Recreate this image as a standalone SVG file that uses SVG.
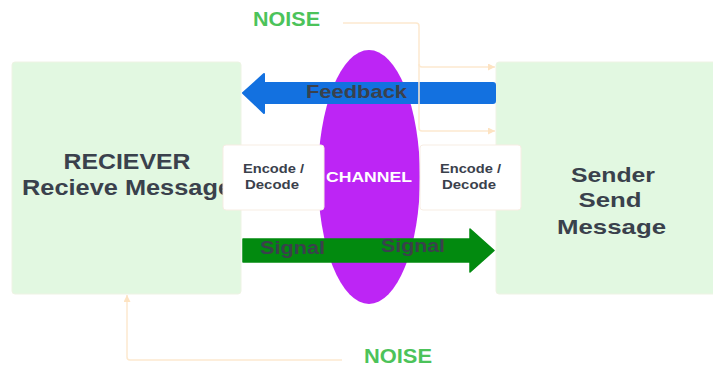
<svg xmlns="http://www.w3.org/2000/svg" width="713" height="367" viewBox="0 0 713 367">
  <defs>
    <style>
      .node { fill: #e2f8e1; stroke: #eef3e4; stroke-width: 1; }
      .coder { fill: #ffffff; stroke: #f7ede3; stroke-width: 1; }
      .label { font-family: "Liberation Sans", Arial, sans-serif; font-weight: bold; fill: #3a414c; text-anchor: middle; }
      .noise { font-family: "Liberation Sans", Arial, sans-serif; font-weight: bold; fill: #4cc35a; }
      .wire { fill: none; stroke: #fde9cf; stroke-width: 1.5; stroke-linejoin: round; }
    </style>
    <marker id="tip" viewBox="0 0 10 10" refX="10" refY="5" markerWidth="7" markerHeight="7" orient="auto" markerUnits="userSpaceOnUse">
      <path d="M0,0 L10,5 L0,10 Z" fill="#fde3c2"/>
    </marker>
  </defs>

  <rect width="713" height="367" fill="#ffffff"/>

  <!-- receiving end -->
  <g id="receiver">
    <rect class="node" x="12" y="62" width="229" height="232" rx="3"/>
    <text class="label" x="127" y="169" font-size="21.5" textLength="127" lengthAdjust="spacingAndGlyphs">RECIEVER</text>
    <text class="label" x="127" y="195" font-size="21.5" textLength="210" lengthAdjust="spacingAndGlyphs">Recieve Message</text>
  </g>

  <!-- sending end -->
  <g id="sender">
    <rect class="node" x="496" y="62" width="225" height="232" rx="3"/>
    <text class="label" x="613" y="182" font-size="20.5" textLength="84" lengthAdjust="spacingAndGlyphs">Sender</text>
    <text class="label" x="610" y="207" font-size="20.5" textLength="63" lengthAdjust="spacingAndGlyphs">Send</text>
    <text class="label" x="611.5" y="234" font-size="20.5" textLength="109" lengthAdjust="spacingAndGlyphs">Message</text>
  </g>

  <!-- transmission medium -->
  <g id="channel">
    <ellipse cx="369" cy="177" rx="51" ry="127" fill="#bd25f5"/>
  </g>

  <!-- feedback path -->
  <g id="feedback">
    <path d="M243,93 L264,74 L264,83 L493,83 Q495,83 495,85 L495,101 Q495,103 493,103 L264,103 L264,113 Z" fill="#1371e0" stroke="#1371e0" stroke-width="2" stroke-linejoin="round"/>
    <text class="label" x="356.5" y="98" font-size="19" textLength="101" lengthAdjust="spacingAndGlyphs">Feedback</text>
  </g>

  <!-- signal path -->
  <g id="signal">
    <path d="M243,239 L470,239 L470,229 L494,250.5 L470,272 L470,262 L243,262 Z" fill="#028a0f" stroke="#028a0f" stroke-width="1.5" stroke-linejoin="round"/>
    <text class="label" x="292.5" y="254" font-size="18" textLength="65" lengthAdjust="spacingAndGlyphs">Signal</text>
    <text class="label" x="413" y="252" font-size="18" textLength="64" lengthAdjust="spacingAndGlyphs">Signal</text>
  </g>

  <!-- coding stages -->
  <g id="coder-left">
    <rect class="coder" x="223" y="145" width="101" height="65" rx="3"/>
    <text class="label" x="273.5" y="173" font-size="13" textLength="61" lengthAdjust="spacingAndGlyphs">Encode /</text>
    <text class="label" x="272" y="188.5" font-size="13" textLength="54" lengthAdjust="spacingAndGlyphs">Decode</text>
  </g>
  <g id="coder-right">
    <rect class="coder" x="420" y="145" width="101" height="65" rx="3"/>
    <text class="label" x="470.5" y="173" font-size="13" textLength="61" lengthAdjust="spacingAndGlyphs">Encode /</text>
    <text class="label" x="469" y="188.5" font-size="13" textLength="54" lengthAdjust="spacingAndGlyphs">Decode</text>
  </g>

  <g id="channel-label">
    <text x="369" y="182" font-family="Liberation Sans, Arial, sans-serif" font-weight="bold" font-size="15" fill="#ffffff" text-anchor="middle" textLength="86" lengthAdjust="spacingAndGlyphs">CHANNEL</text>
  </g>

  <!-- interference sources -->
  <g id="noise-top">
    <text class="noise" x="253" y="26" font-size="20" textLength="67" lengthAdjust="spacingAndGlyphs">NOISE</text>
  </g>
  <g id="noise-bottom">
    <text class="noise" x="364" y="363" font-size="20" textLength="68" lengthAdjust="spacingAndGlyphs">NOISE</text>
  </g>

  <g id="connectors">
    <path class="wire" d="M343,23 L416,23 Q419,23 419,26 L419,128 Q419,131 422,131 L495,131" marker-end="url(#tip)"/>
    <path class="wire" d="M419,64 Q419,67 422,67 L495,67" marker-end="url(#tip)"/>
    <path class="wire" d="M342,360 L130,360 Q127,360 127,357 L127,295" marker-end="url(#tip)"/>
  </g>
</svg>
